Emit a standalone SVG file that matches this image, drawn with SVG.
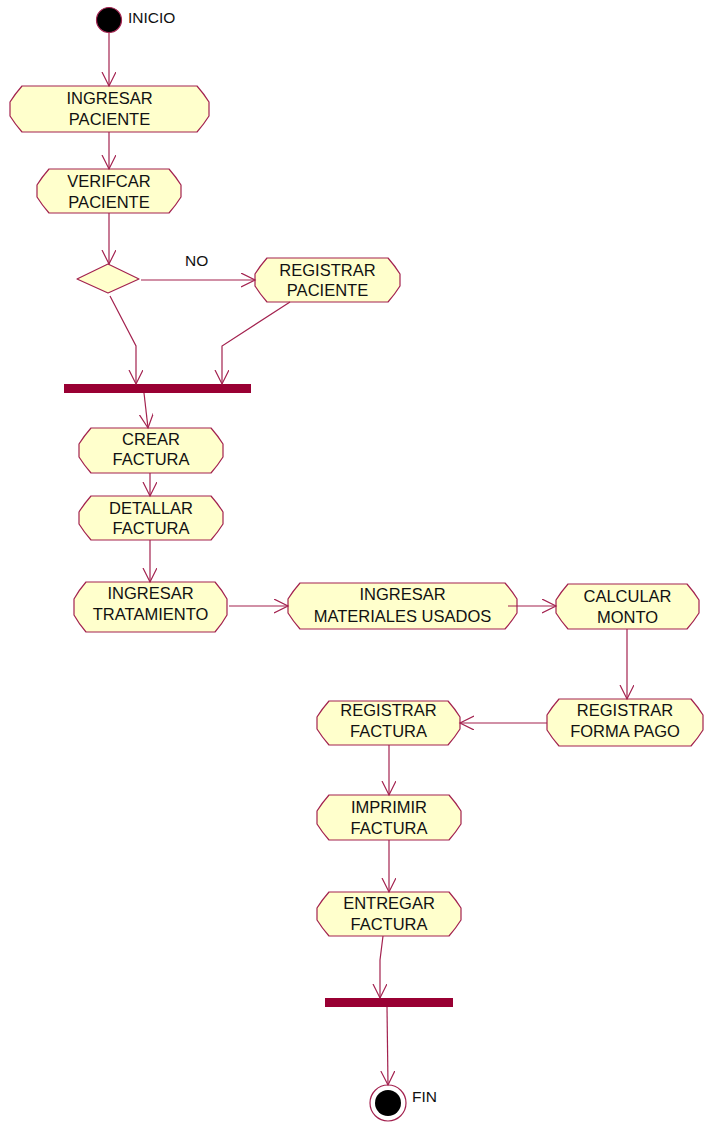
<svg xmlns="http://www.w3.org/2000/svg" width="704" height="1122" viewBox="0 0 704 1122">
  <style>
    .act { fill: #ffffcc; stroke: #a3224f; stroke-width: 1.2; stroke-linejoin: round; }
    .lbl { font-family: "Liberation Sans", Arial, sans-serif; font-size: 16.5px; fill: #111; text-anchor: middle; }
    .note { font-family: "Liberation Sans", Arial, sans-serif; font-size: 15.5px; fill: #111; }
    .bar { fill: #990033; }
    .flow { fill: none; stroke: #a3224f; stroke-width: 1.2; }
  </style>
  <defs>
    <marker id="open" markerUnits="userSpaceOnUse" markerWidth="16" markerHeight="16" refX="14" refY="7" orient="auto">
      <path d="M0,0 L14,7 L0,14" fill="none" stroke="#a3224f" stroke-width="1.2"/>
    </marker>
  </defs>

  <!-- initial state -->
  <g id="inicio">
    <circle cx="109" cy="20" r="12.5" fill="#000" stroke="#a3224f" stroke-width="1.2"/>
    <text class="note" x="128" y="23">INICIO</text>
  </g>

  <g id="ingresar-paciente">
    <path class="act" d="M22,86 H197 Q204,94 209,102 V116 Q204,124 197,132 H22 Q15,124 10,116 V102 Q15,94 22,86 Z"/>
    <text class="lbl" x="109.5" y="104">INGRESAR</text>
    <text class="lbl" x="109.5" y="125">PACIENTE</text>
  </g>

  <g id="verificar-paciente">
    <path class="act" d="M49,169 H169 Q176,177 181,185 V197 Q176,205 169,213 H49 Q42,205 37,197 V185 Q42,177 49,169 Z"/>
    <text class="lbl" x="109" y="187">VERIFCAR</text>
    <text class="lbl" x="109" y="208">PACIENTE</text>
  </g>

  <g id="decision">
    <path class="act" d="M108,264 L139,279 L108,293 L77,279 Z"/>
  </g>

  <g id="registrar-paciente">
    <path class="act" d="M267,258 H388 Q395,266 400,274 V286 Q395,294 388,302 H267 Q260,294 255,286 V274 Q260,266 267,258 Z"/>
    <text class="lbl" x="327.5" y="276">REGISTRAR</text>
    <text class="lbl" x="327.5" y="296">PACIENTE</text>
  </g>

  <g id="union-1">
    <rect class="bar" x="64" y="384" width="187" height="9"/>
  </g>

  <g id="crear-factura">
    <path class="act" d="M91,428 H211 Q218,436 223,444 V457 Q218,465 211,473 H91 Q84,465 79,457 V444 Q84,436 91,428 Z"/>
    <text class="lbl" x="151" y="445">CREAR</text>
    <text class="lbl" x="151" y="465">FACTURA</text>
  </g>

  <g id="detallar-factura">
    <path class="act" d="M91,496 H211 Q218,504 223,512 V524 Q218,532 211,540 H91 Q84,532 79,524 V512 Q84,504 91,496 Z"/>
    <text class="lbl" x="151" y="514">DETALLAR</text>
    <text class="lbl" x="151" y="534">FACTURA</text>
  </g>

  <g id="ingresar-tratamiento">
    <path class="act" d="M86,582 H215 Q222,590 227,599 V615 Q222,624 215,632 H86 Q79,624 74,615 V599 Q79,590 86,582 Z"/>
    <text class="lbl" x="150.5" y="599">INGRESAR</text>
    <text class="lbl" x="150.5" y="620">TRATAMIENTO</text>
  </g>

  <g id="ingresar-materiales">
    <path class="act" d="M300,583 H505 Q512,591 517,599 V613 Q512,621 505,629 H300 Q293,621 288,613 V599 Q293,591 300,583 Z"/>
    <text class="lbl" x="402.5" y="600">INGRESAR</text>
    <text class="lbl" x="402.5" y="622">MATERIALES USADOS</text>
  </g>

  <g id="calcular-monto">
    <path class="act" d="M568,584 H687 Q694,592 699,600 V613 Q694,621 687,629 H568 Q561,621 556,613 V600 Q561,592 568,584 Z"/>
    <text class="lbl" x="627.5" y="602">CALCULAR</text>
    <text class="lbl" x="627.5" y="623">MONTO</text>
  </g>

  <g id="registrar-forma-pago">
    <path class="act" d="M559,699 H691 Q698,707 703,715 V730 Q698,738 691,746 H559 Q552,738 547,730 V715 Q552,707 559,699 Z"/>
    <text class="lbl" x="625" y="716">REGISTRAR</text>
    <text class="lbl" x="625" y="737">FORMA PAGO</text>
  </g>

  <g id="registrar-factura">
    <path class="act" d="M329,701 H448 Q455,709 460,717 V729 Q455,737 448,745 H329 Q322,737 317,729 V717 Q322,709 329,701 Z"/>
    <text class="lbl" x="388.5" y="716">REGISTRAR</text>
    <text class="lbl" x="388.5" y="737">FACTURA</text>
  </g>

  <g id="imprimir-factura">
    <path class="act" d="M329,795 H449 Q456,803 461,811 V824 Q456,832 449,840 H329 Q322,832 317,824 V811 Q322,803 329,795 Z"/>
    <text class="lbl" x="389" y="813">IMPRIMIR</text>
    <text class="lbl" x="389" y="834">FACTURA</text>
  </g>

  <g id="entregar-factura">
    <path class="act" d="M329,892 H449 Q456,900 461,908 V920 Q456,928 449,936 H329 Q322,928 317,920 V908 Q322,900 329,892 Z"/>
    <text class="lbl" x="389" y="909">ENTREGAR</text>
    <text class="lbl" x="389" y="930">FACTURA</text>
  </g>

  <g id="union-2">
    <rect class="bar" x="325" y="998" width="128" height="9"/>
  </g>

  <!-- final state -->
  <g id="fin">
    <circle cx="388" cy="1103" r="18" fill="#fff" stroke="#a3224f" stroke-width="1.2"/>
    <circle cx="388" cy="1103" r="13" fill="#000"/>
    <text class="note" x="412" y="1102">FIN</text>
  </g>

  <g id="connectors">
    <path class="flow" d="M109,33 V86" marker-end="url(#open)"/>
    <path class="flow" d="M109,132 V169" marker-end="url(#open)"/>
    <path class="flow" d="M109,213 V264" marker-end="url(#open)"/>
    <path class="flow" d="M141,280 H255" marker-end="url(#open)"/>
    <text class="note" x="185" y="266">NO</text>
    <path class="flow" d="M110,296 L136,346 V384" marker-end="url(#open)"/>
    <path class="flow" d="M290,302 L222,346 V384" marker-end="url(#open)"/>
    <path class="flow" d="M144,393 L148,428" marker-end="url(#open)"/>
    <path class="flow" d="M150,473 V496" marker-end="url(#open)"/>
    <path class="flow" d="M150,540 V582" marker-end="url(#open)"/>
    <path class="flow" d="M229,606 H288" marker-end="url(#open)"/>
    <path class="flow" d="M508,606 H556" marker-end="url(#open)"/>
    <path class="flow" d="M627,629 V699" marker-end="url(#open)"/>
    <path class="flow" d="M547,723 H460" marker-end="url(#open)"/>
    <path class="flow" d="M389,745 V795" marker-end="url(#open)"/>
    <path class="flow" d="M389,840 V892" marker-end="url(#open)"/>
    <path class="flow" d="M383,936 L380,960 V998" marker-end="url(#open)"/>
    <path class="flow" d="M387,1007 L388,1085" marker-end="url(#open)"/>
  </g>
</svg>
